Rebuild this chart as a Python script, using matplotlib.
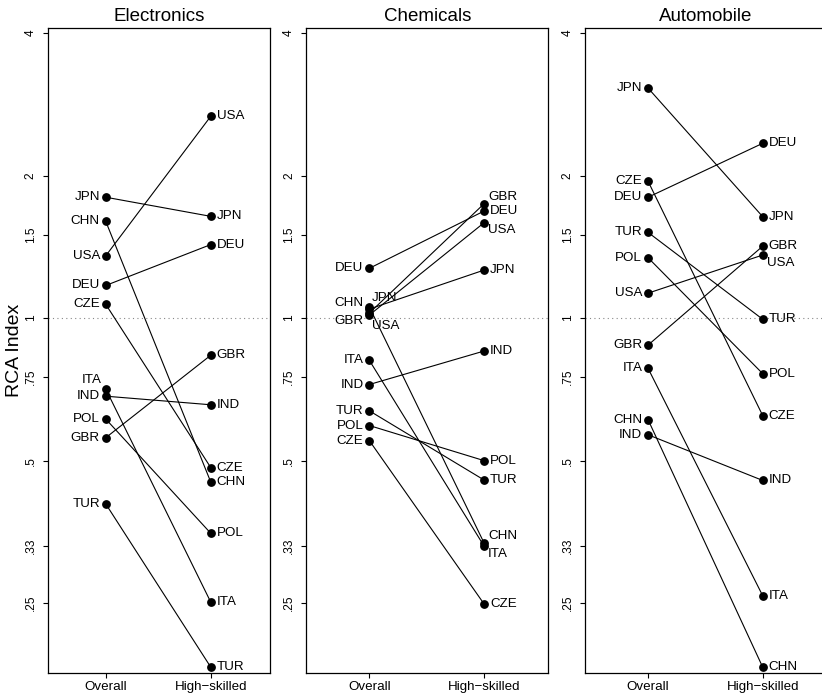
import numpy as np
import matplotlib
matplotlib.use("Agg")
import matplotlib.pyplot as plt
from matplotlib.ticker import FixedLocator, NullLocator

plt.rcParams['font.family'] = ['Liberation Sans', 'DejaVu Sans']

# ---------------- data ----------------
panels = ["Electronics", "Chemicals", "Automobile"]
countries = ["CHN", "CZE", "DEU", "GBR", "IND", "ITA", "JPN", "POL", "TUR", "USA"]

elec_overall = [1.60, 1.069, 1.172, 0.559, 0.684, 0.708, 1.80, 0.612, 0.405, 1.354]
elec_high    = [0.450, 0.483, 1.43, 0.835, 0.656, 0.251, 1.64, 0.351, 0.183, 2.67]

chem_overall = [1.055, 0.551, 1.274, 1.025, 0.724, 0.814, 1.045, 0.593, 0.637, 1.015]
chem_high    = [0.335, 0.249, 1.683, 1.744, 0.852, 0.330, 1.263, 0.500, 0.455, 1.59]

auto_overall = [0.610, 1.945, 1.80, 0.877, 0.567, 0.783, 3.06, 1.341, 1.517, 1.129]
auto_high    = [0.183, 0.622, 2.34, 1.419, 0.454, 0.259, 1.637, 0.763, 0.994, 1.359]

x_labels = ["Overall", "High\u2212skilled"]
y_ticks = [0.25, 0.33, 0.5, 0.75, 1, 1.5, 2, 4]
y_tick_labels = [".25", ".33", ".5", ".75", "1", "1.5", "2", "4"]

# label positions for special cases; default: left for Overall, right for High-skilled
label_pos_overall = [
    {"ITA": "UL"},
    {"CHN": "UL2", "JPN": "UR2", "GBR": "DL", "USA": "DR2"},
    {},
]
label_pos_high = [
    {},
    {"GBR": "UR", "USA": "DR", "CHN": "UR", "ITA": "DR"},
    {"USA": "DR"},
]

data = [(elec_overall, elec_high), (chem_overall, chem_high), (auto_overall, auto_high)]

# ---------------- figure ----------------
W, H = 822, 696
fig = plt.figure(figsize=(W / 100, H / 100), dpi=100)

top_px, bot_px = 27.7, 673
lefts_px = [48, 306.3, 585]
widths_px = [221.7, 242, 242]

offsets = {
    "L":   (-4.2, 0, "right", "center"),
    "R":   (4.2, 0, "left", "center"),
    "UL":  (-3.0, 6.5, "right", "center"),
    "UL2": (-4.2, 3.0, "right", "center"),
    "DL":  (-4.2, -5.5, "right", "center"),
    "UR":  (3.0, 5.2, "left", "center"),
    "UR2": (2.0, 8.0, "left", "center"),
    "DR":  (3.0, -5.5, "left", "center"),
    "DR2": (2.0, -8.2, "left", "center"),
}

for i, name in enumerate(panels):
    l = lefts_px[i] / W
    w = widths_px[i] / W
    b = 1 - bot_px / H
    h = (bot_px - top_px) / H
    ax = fig.add_axes([l, b, w, h])
    ax.set_yscale("log")
    ax.set_ylim(0.178, 4.105)
    ax.set_xlim(0.45, 2.56)

    ov, hi = data[i]
    ax.axhline(1, color="#888888", lw=0.8, ls=(0, (1, 3)), zorder=1)
    for c, a, bval in zip(countries, ov, hi):
        ax.plot([1, 2], [a, bval], color="black", lw=0.8, zorder=2)
        ax.plot([1, 2], [a, bval], ls="none", marker="o", ms=5.3,
                color="black", zorder=3)
        p1 = label_pos_overall[i].get(c, "L")
        dx, dy, ha, va = offsets[p1]
        ax.annotate(c, (1, a), xytext=(dx, dy), textcoords="offset points",
                    ha=ha, va=va, fontsize=9.6)
        p2 = label_pos_high[i].get(c, "R")
        dx, dy, ha, va = offsets[p2]
        ax.annotate(c, (2, bval), xytext=(dx, dy), textcoords="offset points",
                    ha=ha, va=va, fontsize=9.6)

    ax.yaxis.set_major_locator(FixedLocator(y_ticks))
    ax.yaxis.set_minor_locator(NullLocator())
    ax.set_yticklabels(y_tick_labels, rotation=90, va="center", fontsize=8.6)
    ax.set_xticks([1, 2])
    ax.set_xticklabels(x_labels, fontsize=9.6)
    ax.tick_params(axis="y", length=3.5, width=0.8, pad=4.5)
    ax.tick_params(axis="x", length=3.5, width=0.8, pad=2)
    for s in ax.spines.values():
        s.set_linewidth(0.9)
        s.set_color("black")
    ax.set_title(name, fontsize=13.5, pad=5)

# shared y-axis title, left of first panel
fig.text(15 / W, 1 - ((top_px + bot_px) / 2) / H, "RCA Index", rotation=90,
         ha="center", va="center", fontsize=14)

fig.savefig("out.png", dpi=100)
